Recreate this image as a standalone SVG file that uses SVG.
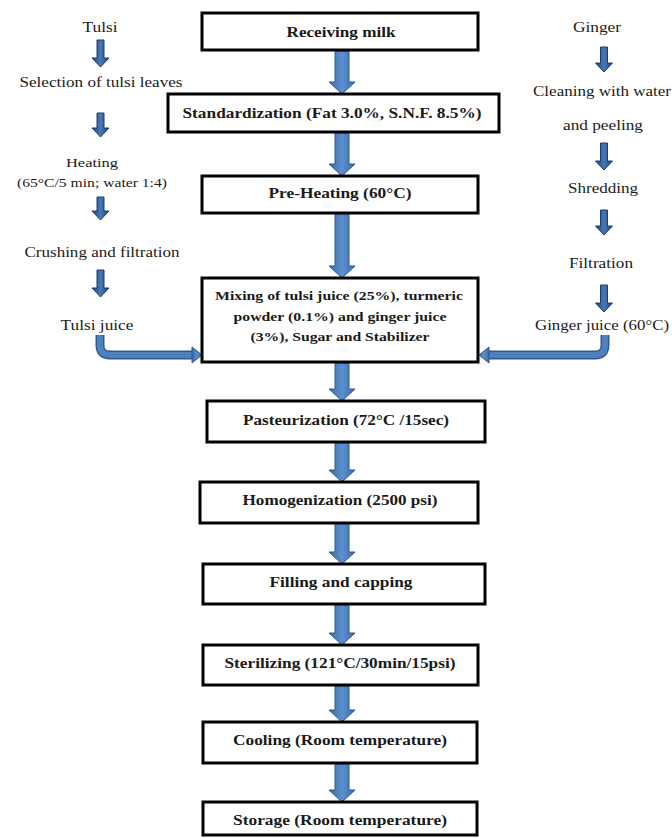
<svg xmlns="http://www.w3.org/2000/svg" width="672" height="838" viewBox="0 0 672 838">
<style>
.box{fill:#fff;stroke:#000;stroke-width:3}
text{font-family:"Liberation Serif","DejaVu Serif","Times New Roman",serif;fill:#1a1a1a;text-anchor:middle}
.bt{font-weight:bold;font-size:15px}
.mt{font-weight:bold;font-size:13px}
.st{font-size:15px}
.sm{font-size:11.5px}
.ar{fill:url(#g);stroke:#2f5a8f;stroke-width:1}
.sa{fill:url(#g2);stroke:#1f3d6e;stroke-width:1}
.bo{fill:none;stroke:#2f5a8f;stroke-width:9;stroke-linejoin:round}
.bi{fill:none;stroke:#4f81bd;stroke-width:6;stroke-linejoin:round}
</style>
<defs>
<linearGradient id="g" x1="0" y1="0" x2="1" y2="0">
<stop offset="0" stop-color="#3a6aa8"/>
<stop offset="0.5" stop-color="#5d90d0"/>
<stop offset="1" stop-color="#3a6aa8"/>
</linearGradient>
<linearGradient id="g2" x1="0" y1="0" x2="1" y2="0">
<stop offset="0" stop-color="#1f4177"/>
<stop offset="0.5" stop-color="#4a78b5"/>
<stop offset="1" stop-color="#1f4177"/>
</linearGradient>
</defs>
<rect width="672" height="838" fill="#fff"/>

<g id="connectors">
<polygon class="ar" points="335,51 349,51 349,82 355,82 342,94 329,82 335,82"/>
<polygon class="ar" points="335,133 349,133 349,164 355,164 342,176 329,164 335,164"/>
<polygon class="ar" points="335,214 349,214 349,266 355,266 342,278 329,266 335,266"/>
<polygon class="ar" points="335,363 349,363 349,389 355,389 342,401 329,389 335,389"/>
<polygon class="ar" points="335,442 349,442 349,470 355,470 342,482 329,470 335,470"/>
<polygon class="ar" points="335,523 349,523 349,552 355,552 342,564 329,552 335,552"/>
<polygon class="ar" points="335,605 349,605 349,633 355,633 342,645 329,633 335,633"/>
<polygon class="ar" points="335,686 349,686 349,710 355,710 342,722 329,710 335,710"/>
<polygon class="ar" points="335,764 349,764 349,790 355,790 342,802 329,790 335,790"/>

<polygon class="sa" points="97,40 104,40 104,58 109,58 100.5,67 92,58 97,58"/>
<polygon class="sa" points="97,113 104,113 104,128 109,128 100.5,137 92,128 97,128"/>
<polygon class="sa" points="97,197 104,197 104,211 109,211 100.5,220 92,211 97,211"/>
<polygon class="sa" points="97,270 104,270 104,288 109,288 100.5,297 92,288 97,288"/>

<polygon class="sa" points="600.5,47 607.5,47 607.5,63 612.5,63 604,72 595.5,63 600.5,63"/>
<polygon class="sa" points="600.5,143 607.5,143 607.5,161 612.5,161 604,170 595.5,161 600.5,161"/>
<polygon class="sa" points="600.5,210 607.5,210 607.5,226 612.5,226 604,235 595.5,226 600.5,226"/>
<polygon class="sa" points="600.5,285 607.5,285 607.5,303 612.5,303 604,312 595.5,303 600.5,303"/>

<path class="bo" d="M100,335 V345 Q100,355 110,355 H193"/>
<path class="bi" d="M100,335 V345 Q100,355 110,355 H193"/>
<polygon class="ar" points="192,347 202,355 192,363"/>

<path class="bo" d="M605,335 V345 Q605,355 595,355 H488"/>
<path class="bi" d="M605,335 V345 Q605,355 595,355 H488"/>
<polygon class="ar" points="489,347 479,355 489,363"/>
</g>

<g id="n1"><rect class="box" x="202" y="13" width="276" height="37"/><text class="bt" x="341" y="37" textLength="109" lengthAdjust="spacingAndGlyphs">Receiving milk</text></g>
<g id="n2"><rect class="box" x="168" y="94" width="331" height="38"/><text class="bt" x="332" y="118" textLength="299" lengthAdjust="spacingAndGlyphs">Standardization (Fat 3.0%, S.N.F. 8.5%)</text></g>
<g id="n3"><rect class="box" x="202" y="176" width="276" height="37"/><text class="bt" x="340" y="198" textLength="143" lengthAdjust="spacingAndGlyphs">Pre-Heating (60°C)</text></g>
<g id="n4"><rect class="box" x="202" y="278" width="276" height="84"/>
<text class="mt" x="339" y="300" textLength="248" lengthAdjust="spacingAndGlyphs">Mixing of tulsi juice (25%), turmeric</text>
<text class="mt" x="340" y="321" textLength="213" lengthAdjust="spacingAndGlyphs">powder (0.1%) and ginger juice</text>
<text class="mt" x="340" y="341" textLength="179" lengthAdjust="spacingAndGlyphs">(3%), Sugar and Stabilizer</text></g>
<g id="n5"><rect class="box" x="207" y="401" width="278" height="41"/><text class="bt" x="346" y="425" textLength="206" lengthAdjust="spacingAndGlyphs">Pasteurization (72°C /15sec)</text></g>
<g id="n6"><rect class="box" x="200" y="482" width="278" height="41"/><text class="bt" x="340" y="505" textLength="195" lengthAdjust="spacingAndGlyphs">Homogenization (2500 psi)</text></g>
<g id="n7"><rect class="box" x="203" y="564" width="282" height="40"/><text class="bt" x="341" y="587" textLength="143" lengthAdjust="spacingAndGlyphs">Filling and capping</text></g>
<g id="n8"><rect class="box" x="203" y="645" width="275" height="40"/><text class="bt" x="340" y="668" textLength="231" lengthAdjust="spacingAndGlyphs">Sterilizing (121°C/30min/15psi)</text></g>
<g id="n9"><rect class="box" x="203" y="722" width="274" height="41"/><text class="bt" x="340" y="745" textLength="214" lengthAdjust="spacingAndGlyphs">Cooling (Room temperature)</text></g>
<g id="n10"><rect class="box" x="203" y="802" width="274" height="33"/><text class="bt" x="340" y="825" textLength="214" lengthAdjust="spacingAndGlyphs">Storage (Room temperature)</text></g>

<g id="tulsi"><text class="st" x="100" y="32" textLength="35" lengthAdjust="spacingAndGlyphs">Tulsi</text></g>
<g id="selection"><text class="st" x="101" y="87" textLength="163" lengthAdjust="spacingAndGlyphs">Selection of tulsi leaves</text></g>
<g id="heating"><text class="sm" x="92" y="167" textLength="52" lengthAdjust="spacingAndGlyphs">Heating</text><text class="sm" x="92" y="187" textLength="150" lengthAdjust="spacingAndGlyphs">(65°C/5 min; water 1:4)</text></g>
<g id="crushing"><text class="st" x="102" y="257" textLength="155" lengthAdjust="spacingAndGlyphs">Crushing and filtration</text></g>
<g id="tulsijuice"><text class="st" x="97" y="330" textLength="73" lengthAdjust="spacingAndGlyphs">Tulsi juice</text></g>

<g id="ginger"><text class="st" x="597" y="32" textLength="48" lengthAdjust="spacingAndGlyphs">Ginger</text></g>
<g id="cleaning"><text class="st" x="602" y="96" textLength="138" lengthAdjust="spacingAndGlyphs">Cleaning with water</text><text class="st" x="603" y="130" textLength="80" lengthAdjust="spacingAndGlyphs">and peeling</text></g>
<g id="shredding"><text class="st" x="603" y="193" textLength="70" lengthAdjust="spacingAndGlyphs">Shredding</text></g>
<g id="filtration"><text class="st" x="601" y="268" textLength="64" lengthAdjust="spacingAndGlyphs">Filtration</text></g>
<g id="gingerjuice"><text class="st" x="602" y="330" textLength="134" lengthAdjust="spacingAndGlyphs">Ginger juice (60°C)</text></g>
</svg>
